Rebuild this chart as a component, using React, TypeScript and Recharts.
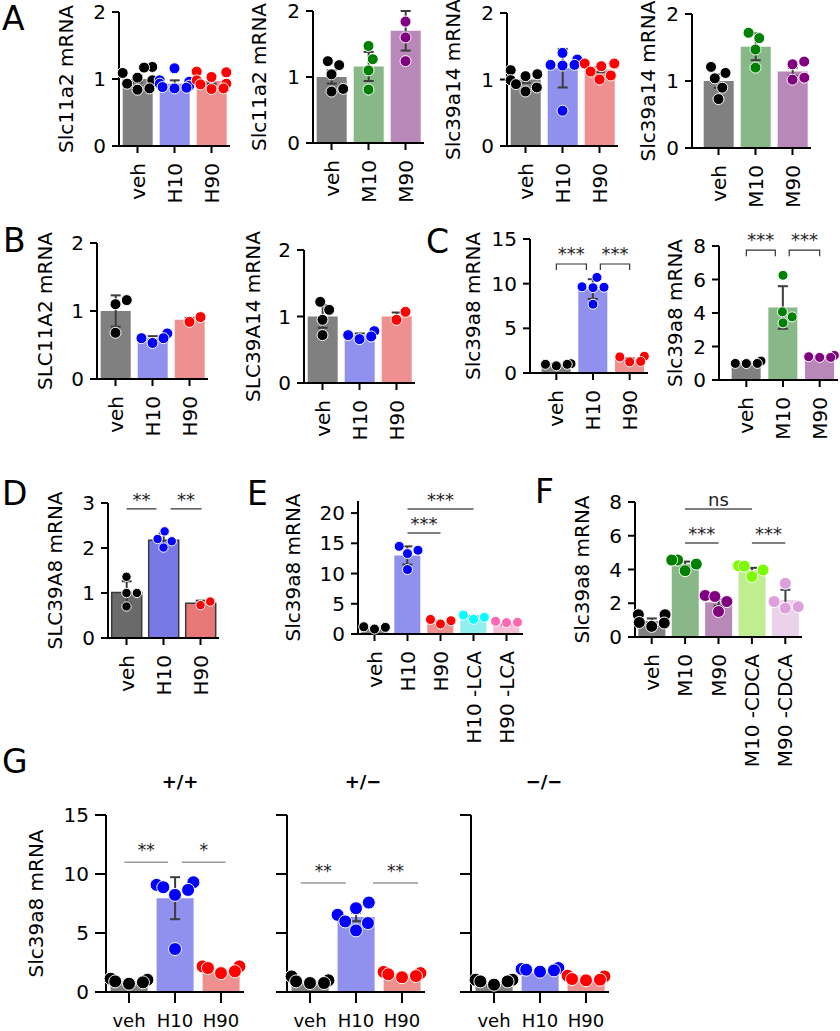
import React from 'react';
import { ComposedChart, Bar, Cell, ErrorBar, Scatter, XAxis, YAxis, ReferenceLine } from 'recharts';

const FONT = 'DejaVu Sans';

// group names
const grpH = ['veh', 'H10', 'H90'];
const grpM = ['veh', 'M10', 'M90'];
const grpE = ['veh', 'H10', 'H90', 'H10 -LCA', 'H90 -LCA'];
const grpF = ['veh', 'M10', 'M90', 'M10 -CDCA', 'M90 -CDCA'];

// A
const a1Mean = [1.0, 0.93, 0.97];
const a1Err = [0.05, 0.05, 0.04];
const a1Dots = [[1.18, 1.17, 1.09, 1.02, 0.98, 0.93, 0.86, 0.84], [1.16, 0.98, 0.96, 0.93, 0.9, 0.88, 0.87, 0.86], [1.11, 1.1, 1.03, 0.98, 0.93, 0.92, 0.86, 0.85]];
const a2Mean = [1.0, 1.16, 1.7];
const a2Err = [0.1, 0.22, 0.3];
const a2Dots = [[1.24, 1.18, 1.04, 0.82, 0.78], [1.47, 1.27, 1.1, 0.81], [1.84, 1.6, 1.24]];
const a3Mean = [1.0, 1.17, 1.15];
const a3Err = [0.05, 0.29, 0.04];
const a3Dots = [[1.14, 1.08, 1.05, 0.99, 0.93, 0.88, 0.82], [1.4, 1.3, 1.22, 1.21, 1.22, 0.53], [1.24, 1.23, 1.2, 1.24, 1.12, 1.0, 1.06]];
const a4Mean = [1.0, 1.51, 1.14];
const a4Err = [0.1, 0.2, 0.06];
const a4Dots = [[1.21, 1.12, 1.04, 0.9, 0.73], [1.72, 1.64, 1.47, 1.2], [1.29, 1.25, 1.05, 1.02]];

// B
const b1Mean = [1.0, 0.6, 0.87];
const b1Err = [0.23, 0.03, 0.03];
const b1Dots = [[1.16, 1.1, 0.68], [0.67, 0.6, 0.6, 0.53], [0.91, 0.84]];
const b2Mean = [1.0, 0.715, 1.0];
const b2Err = [0.17, 0.03, 0.06];
const b2Dots = [[1.22, 1.1, 0.95, 0.72], [0.78, 0.72, 0.7, 0.66], [1.07, 0.95]];

// C
const c1Mean = [0.95, 9.4, 1.5];
const c1Err = [0.05, 1.1, 0.15];
const c1Dots = [[1.04, 0.97, 0.97, 0.8], [10.7, 9.65, 9.6, 9.55, 7.7], [1.87, 1.8, 1.3, 1.25]];
const c1Sig = [{ x1: 0, x2: 0.82, y: 12.2, text: '***' }, { x1: 1.2, x2: 2, y: 12.2, text: '***' }];
const c2Mean = [1.05, 4.33, 1.38];
const c2Err = [0.04, 1.27, 0.03];
const c2Dots = [[1.13, 0.99, 0.99, 0.98], [6.25, 4.07, 3.77, 3.41], [1.47, 1.39, 1.35, 1.35]];
const c2Sig = [{ x1: 0, x2: 0.79, y: 7.75, text: '***' }, { x1: 1.17, x2: 2, y: 7.75, text: '***' }];

// D
const dMean = [1.01, 2.17, 0.77];
const dErr = [0.25, 0.15, 0.06];
const dDots = [[1.36, 1.0, 1.0, 0.7], [2.37, 2.2, 2.15, 2.01], [0.81, 0.73]];
const dSig = [{ x1: 0, x2: 0.81, y: 2.87, text: '**' }, { x1: 1.19, x2: 2.03, y: 2.87, text: '**' }];

// E
const eMean = [0.95, 13.0, 1.7, 2.6, 1.6];
const eErr = [0.1, 1.5, 0.3, 0.3, 0.1];
const eDots = [[1.2, 1.1, 0.82], [14.5, 13.85, 13.3, 10.66], [2.4, 2.2, 1.65], [3.14, 2.76, 2.43], [2.1, 1.93, 1.88]];
const eSig = [{ x1: 1, x2: 2, y: 16.7, text: '***' }, { x1: 1, x2: 3, y: 20.66, text: '***' }];

// F
const fMean = [0.95, 4.32, 2.05, 3.95, 2.2];
const fErr = [0.15, 0.15, 0.2, 0.15, 0.6];
const fDots = [[1.32, 1.32, 0.86, 0.83, 0.63], [4.56, 4.56, 4.32, 3.93], [2.46, 2.4, 2.1, 1.51], [4.22, 4.2, 3.97, 3.58], [3.18, 2.1, 1.8, 1.71]];
const fSig = [{ x1: 1, x2: 3, y: 7.59, text: 'ns' }, { x1: 1, x2: 2, y: 5.57, text: '***' }, { x1: 3, x2: 4, y: 5.57, text: '***' }];

// G
const g1Mean = [0.9, 7.95, 1.7];
const g1Err = [0.1, 1.78, 0.15];
const g1Dots = [[1.13, 1.04, 0.9, 0.82, 0.7], [9.3, 9.08, 8.88, 8.65, 8.23, 3.64], [2.17, 2.17, 2.03, 1.75, 1.6]];
const g1Sig = [{ x1: -0.1, x2: 0.85, y: 11.0, text: '**' }, { x1: 1.15, x2: 2.1, y: 11.0, text: '*' }];
const g2Mean = [0.85, 6.35, 1.4];
const g2Err = [0.1, 0.35, 0.1];
const g2Dots = [[1.32, 0.99, 0.9, 0.76, 0.76], [7.58, 7.1, 6.54, 5.98, 5.84, 5.22], [1.7, 1.6, 1.5, 1.35, 1.25]];
const g2Sig = [{ x1: -0.2, x2: 0.78, y: 9.24, text: '**' }, { x1: 1.37, x2: 2.35, y: 9.24, text: '**' }];
const g3Mean = [0.7, 1.6, 1.0];
const g3Err = [0.08, 0.05, 0.08];
const g3Dots = [[1.04, 1.04, 0.9, 0.9, 0.62], [2.03, 1.95, 1.89, 1.83, 1.72], [1.38, 1.32, 1.1, 1.04, 0.99]];

const BAR: Record<string, string> = {
  veh: '#808080', H10: '#9090ee', H90: '#ef9090', M10: '#88b888', M90: '#b888b8',
  'H10 -LCA': '#90efef', 'H90 -LCA': '#f6beda', 'M10 -CDCA': '#beee8f', 'M90 -CDCA': '#ead3ea',
};
const DOT: Record<string, string> = {
  veh: '#000000', H10: '#0000ff', H90: '#ff0000', M10: '#008000', M90: '#800080',
  'H10 -LCA': '#00ffff', 'H90 -LCA': '#ff69b4', 'M10 -CDCA': '#7cfc00', 'M90 -CDCA': '#dda0dd',
};
const D_BAR: Record<string, string> = { veh: '#6a6a6a', H10: '#7878e6', H90: '#e87878' };

type Sig = { x1: number; x2: number; y: number; text: string };

// seaborn-like swarm: returns x offsets in category units
function swarm(vals: number[], ppu: number, band: number, d: number) {
  const order = vals.map((_, i) => i).sort((a, b) => vals[a] - vals[b]);
  const placed: { x: number; y: number }[] = [];
  const out = vals.map(() => 0);
  const maxOff = band * 0.4;
  for (const i of order) {
    const y = vals[i] * ppu;
    const cands = [0];
    for (const p of placed) {
      const dy = Math.abs(p.y - y);
      if (dy < d) {
        const dx = Math.sqrt(d * d - dy * dy);
        cands.push(p.x + dx, p.x - dx);
      }
    }
    cands.sort((a, b) => Math.abs(a) - Math.abs(b));
    let best = cands.find((c) => placed.every((p) => (p.x - c) ** 2 + (p.y - y) ** 2 >= d * d - 0.01));
    if (best === undefined) best = 0;
    best = Math.max(-maxOff, Math.min(maxOff, best));
    placed.push({ x: best, y });
    out[i] = best / band;
  }
  return out;
}

type PanelProps = {
  px: number; py: number; pw: number; ph: number; padL?: number;
  cats: string[]; mean: number[]; err: number[]; dots: number[][];
  barColors?: Record<string, string>; barStroke?: string;
  yMax: number; yTicks: number[]; tickLabels?: boolean;
  yLabel?: string; yLabelX?: number;
  rotated?: boolean; r: number; tickLen?: number; xFont?: number;
  sig?: Sig[]; sigStyle?: { color: string; width: number; drop: number; gap: number; fs: number };
};

function Panel(p: PanelProps) {
  const { px, py, pw, ph, padL = 0, cats, mean, err, dots, yMax, yTicks, r } = p;
  const tickLen = p.tickLen ?? 7;
  const colors = p.barColors ?? BAR;
  const labelled = p.tickLabels !== false;
  const n = cats.length;
  const band = (pw - padL) / n;
  const ppu = ph / yMax;
  const data = cats.map((c, i) => ({ cat: c, mean: mean[i], err: err[i] }));
  const groups = dots.map((vals, i) => {
    const offs = swarm(vals, ppu, band, 2 * r + 1);
    return vals.map((v, k) => ({ x: i + offs[k], y: v }));
  });
  // keep each chart inside the 840x1031 page
  const mt = Math.min(40, py);
  const mr = Math.max(0, Math.min(20, 840 - (px + pw)));
  const xh = p.rotated ? 130 : 38;
  const W = pw + 90 + mr;
  const H = ph + mt + xh;
  const ss = p.sigStyle ?? { color: '#555', width: 1.5, drop: 0, gap: 3, fs: 18 };

  const rotTick = (t: any) => (
    <text x={t.x} y={t.y} transform={`rotate(-90 ${t.x} ${t.y})`} textAnchor="end"
      dominantBaseline="central" fontSize={20} fontFamily={FONT} fill="#000">{t.payload.value}</text>
  );

  return (
    <div style={{ position: 'absolute', left: px - 90, top: py - mt }}>
      <ComposedChart width={W} height={H} data={data} barCategoryGap="10%"
        margin={{ top: mt, right: mr, bottom: 0, left: 0 }}>
        <XAxis xAxisId="cat" dataKey="cat" height={xh} interval={0} padding={{ left: padL, right: 0 }}
          axisLine={false} tickSize={tickLen} tickMargin={p.rotated ? 10 : 11}
          tickLine={{ stroke: '#000', strokeWidth: 2 }}
          tick={p.rotated ? rotTick : { fontSize: p.xFont ?? 20, fill: '#000', fontFamily: FONT }} />
        <XAxis xAxisId="num" type="number" dataKey="x" domain={[-0.5, n - 0.5]} hide
          padding={{ left: padL, right: 0 }} />
        <YAxis width={90} type="number" domain={[0, yMax]} ticks={yTicks} interval={0}
          tickSize={tickLen} tickMargin={6}
          axisLine={{ stroke: '#000', strokeWidth: 2 }}
          tickLine={{ stroke: '#000', strokeWidth: 2 }}
          tick={labelled ? { fontSize: 20, fill: '#000', fontFamily: FONT } : false}
          label={p.yLabel ? {
            value: p.yLabel, angle: -90, position: 'insideLeft', offset: (p.yLabelX ?? 0) - px + 90,
            style: { textAnchor: 'middle', fontSize: 20, fill: '#000', fontFamily: FONT },
          } : undefined} />
        <Bar xAxisId="cat" dataKey="mean" isAnimationActive={false}>
          {cats.map((c) => (
            <Cell key={c} fill={colors[c]} stroke={p.barStroke ?? 'none'} strokeWidth={p.barStroke ? 1.5 : 0} />
          ))}
          <ErrorBar dataKey="err" direction="y" width={5} stroke="#3c3c3c" strokeWidth={2} isAnimationActive={false} />
        </Bar>
        {/* outward tick marks on the unlabeled y axes (G, +/- and -/-) */}
        {!labelled && yTicks.map((v) => (
          <ReferenceLine key={`t${v}`} xAxisId="cat" y={v} ifOverflow="visible"
            shape={(l: any) => {
              const left = Math.min(l.x1, l.x2);
              return <line x1={left - tickLen} y1={l.y1} x2={left} y2={l.y1} stroke="#000" strokeWidth={2} />;
            }} />
        ))}
        {/* x spine, running out to the end of the y tick marks */}
        <ReferenceLine xAxisId="cat" y={0} ifOverflow="visible"
          shape={(l: any) => (
            <line x1={Math.min(l.x1, l.x2) - tickLen} y1={l.y1} x2={Math.max(l.x1, l.x2)} y2={l.y2} stroke="#000" strokeWidth={2} />
          )} />
        {groups.map((g, i) => (
          <Scatter key={cats[i]} xAxisId="num" data={g} dataKey="y" isAnimationActive={false}
            shape={(s: any) => <circle cx={s.cx} cy={s.cy} r={r} fill={DOT[cats[i]]} stroke="#fff" strokeWidth={1} />} />
        ))}
        {(p.sig ?? []).map((c, i) => (
          <ReferenceLine key={i} xAxisId="num" ifOverflow="visible"
            segment={[{ x: c.x1, y: c.y }, { x: c.x2, y: c.y }]}
            shape={(l: any) => {
              const a = Math.min(l.x1, l.x2);
              const b = Math.max(l.x1, l.x2);
              const y = l.y1;
              const d = ss.drop
                ? `M${a},${y + ss.drop}L${a},${y}L${b},${y}L${b},${y + ss.drop}`
                : `M${a},${y}L${b},${y}`;
              return (
                <g>
                  <path d={d} fill="none" stroke={ss.color} strokeWidth={ss.width} />
                  <text x={(a + b) / 2} y={y - ss.gap} textAnchor="middle" fontSize={ss.fs}
                    fontFamily={FONT} fill="#222">{c.text}</text>
                </g>
              );
            }} />
        ))}
      </ComposedChart>
    </div>
  );
}

const bracket = { color: '#333', width: 1.2, drop: 6, gap: 4, fs: 18 };
const plain = { color: '#555', width: 1.5, drop: 0, gap: 3, fs: 18 };
const grey = { color: '#999', width: 1.5, drop: 0, gap: 6, fs: 17 };

export default function App() {
  const letters = [
    { t: 'A', x: 2, y: 30 }, { t: 'B', x: 3, y: 252 }, { t: 'C', x: 426, y: 253 },
    { t: 'D', x: 2, y: 505 }, { t: 'E', x: 247, y: 505 }, { t: 'F', x: 535, y: 503 }, { t: 'G', x: 2, y: 773 },
  ];
  const titles = [{ t: '+/+', x: 180 }, { t: '+/\u2212', x: 363 }, { t: '\u2212/\u2212', x: 544 }];
  return (
    <div style={{ position: 'absolute', left: 0, top: 0, width: 840, height: 1031, overflow: 'hidden', background: '#fff', fontFamily: FONT }}>
      <Panel px={119} py={12} pw={111} ph={134} cats={grpH} mean={a1Mean} err={a1Err} dots={a1Dots}
        yMax={2} yTicks={[0, 1, 2]} yLabel="Slc11a2 mRNA" yLabelX={66} rotated r={5.5} />
      <Panel px={313} py={11} pw={111} ph={132} cats={grpM} mean={a2Mean} err={a2Err} dots={a2Dots}
        yMax={2} yTicks={[0, 1, 2]} yLabel="Slc11a2 mRNA" yLabelX={259} rotated r={5.5} />
      <Panel px={507} py={13} pw={111} ph={133} cats={grpH} mean={a3Mean} err={a3Err} dots={a3Dots}
        yMax={2} yTicks={[0, 1, 2]} yLabel="Slc39a14 mRNA" yLabelX={453} rotated r={5.5} />
      <Panel px={692} py={14} pw={119} padL={8} ph={134} cats={grpM} mean={a4Mean} err={a4Err} dots={a4Dots}
        yMax={2} yTicks={[0, 1, 2]} yLabel="Slc39a14 mRNA" yLabelX={648} rotated r={5.5} />

      <Panel px={97} py={243} pw={111} ph={136} cats={grpH} mean={b1Mean} err={b1Err} dots={b1Dots}
        yMax={2} yTicks={[0, 1, 2]} yLabel="SLC11A2 mRNA" yLabelX={45} rotated r={5.5} />
      <Panel px={304} py={250} pw={111} ph={133} cats={grpH} mean={b2Mean} err={b2Err} dots={b2Dots}
        yMax={2} yTicks={[0, 1, 2]} yLabel="SLC39A14 mRNA" yLabelX={253} rotated r={5.5} />
      <Panel px={530} py={239} pw={118} padL={8} ph={134} cats={grpH} mean={c1Mean} err={c1Err} dots={c1Dots}
        yMax={15} yTicks={[0, 5, 10, 15]} yLabel="Slc39a8 mRNA" yLabelX={473} rotated r={5}
        sig={c1Sig} sigStyle={bracket} />
      <Panel px={719} py={246} pw={119} padL={9} ph={134} cats={grpM} mean={c2Mean} err={c2Err} dots={c2Dots}
        yMax={8} yTicks={[0, 2, 4, 6, 8]} yLabel="Slc39a8 mRNA" yLabelX={675} rotated r={5}
        sig={c2Sig} sigStyle={bracket} />

      <Panel px={108} py={503} pw={111} ph={135} cats={grpH} mean={dMean} err={dErr} dots={dDots}
        barColors={D_BAR} barStroke="#3a3a3a"
        yMax={3} yTicks={[0, 1, 2, 3]} yLabel="SLC39A8 mRNA" yLabelX={55} rotated r={4.7}
        sig={dSig} sigStyle={plain} />
      <Panel px={358} py={501} pw={165} ph={133} cats={grpE} mean={eMean} err={eErr} dots={eDots}
        yMax={22} yTicks={[0, 5, 10, 15, 20]} yLabel="Slc39a8 mRNA" yLabelX={293} rotated r={5}
        sig={eSig} sigStyle={plain} />
      <Panel px={635} py={502} pw={167} ph={135} cats={grpF} mean={fMean} err={fErr} dots={fDots}
        yMax={8} yTicks={[0, 2, 4, 6, 8]} yLabel="Slc39a8 mRNA" yLabelX={582} rotated r={6}
        sig={fSig} sigStyle={plain} />

      <Panel px={106} py={815} pw={138} ph={177} cats={grpH} mean={g1Mean} err={g1Err} dots={g1Dots}
        yMax={15} yTicks={[0, 5, 10, 15]} yLabel="Slc39a8 mRNA" yLabelX={36} r={6.5} tickLen={11} xFont={18}
        sig={g1Sig} sigStyle={grey} />
      <Panel px={287} py={815} pw={138} ph={177} cats={grpH} mean={g2Mean} err={g2Err} dots={g2Dots}
        yMax={15} yTicks={[0, 5, 10, 15]} tickLabels={false} r={6.5} tickLen={11} xFont={18}
        sig={g2Sig} sigStyle={grey} />
      <Panel px={471} py={815} pw={138} ph={177} cats={grpH} mean={g3Mean} err={g3Err} dots={g3Dots}
        yMax={15} yTicks={[0, 5, 10, 15]} tickLabels={false} r={6.5} tickLen={11} xFont={18} />

      <svg width={840} height={1031} style={{ position: 'absolute', left: 0, top: 0, pointerEvents: 'none' }}>
        {letters.map((l) => (
          <text key={l.t} x={l.x} y={l.y} fontSize={33} fontFamily={FONT} fill="#000">{l.t}</text>
        ))}
        {titles.map((t) => (
          <text key={t.t} x={t.x} y={788} textAnchor="middle" fontSize={18} fontWeight="bold" fontFamily={FONT} fill="#000">{t.t}</text>
        ))}
      </svg>
    </div>
  );
}
